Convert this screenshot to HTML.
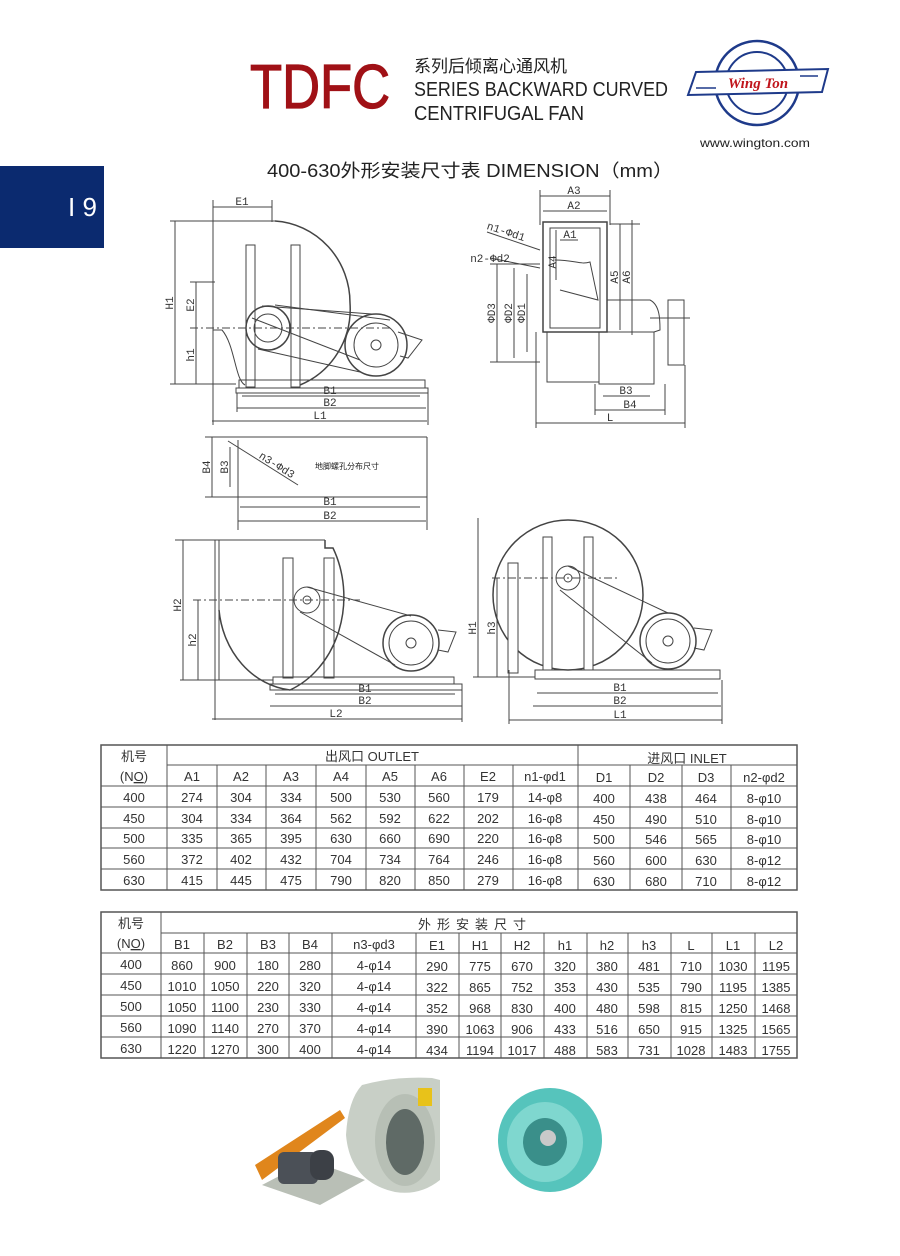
<!DOCTYPE html>
<html><head><meta charset="utf-8"><style>
html,body{margin:0;padding:0;background:#fff;}
svg{display:block;}
</style></head><body>
<svg width="900" height="1256" viewBox="0 0 900 1256" xmlns="http://www.w3.org/2000/svg" font-family="'Liberation Sans','Noto Sans CJK SC',sans-serif">
<rect width="900" height="1256" fill="#fff"/>
<!-- header -->
<text x="250" y="108" font-size="62" fill="#a01116" stroke="#a01116" stroke-width="1.2" textLength="140" lengthAdjust="spacingAndGlyphs">TDFC</text>
<text x="414" y="72" font-size="17" fill="#222">系列后倾离心通风机</text>
<text x="414" y="96" font-size="20" fill="#222" textLength="254" lengthAdjust="spacingAndGlyphs">SERIES BACKWARD CURVED</text>
<text x="414" y="120" font-size="20" fill="#222" textLength="170" lengthAdjust="spacingAndGlyphs">CENTRIFUGAL FAN</text>
<!-- logo -->
<circle cx="757" cy="83" r="42" fill="none" stroke="#1e3a8a" stroke-width="2.5"/>
<circle cx="757" cy="83" r="31" fill="none" stroke="#1e3a8a" stroke-width="2"/>
<path d="M696 72 L828 69 L822 92 L688 95 Z" fill="#fff" stroke="#1e3a8a" stroke-width="2"/>
<line x1="696" y1="88" x2="716" y2="88" stroke="#1e3a8a" stroke-width="1.5"/><line x1="800" y1="76" x2="818" y2="76" stroke="#1e3a8a" stroke-width="1.5"/>
<text x="758" y="88" font-size="15" font-weight="bold" font-family="'Liberation Serif',serif" fill="#c0141b" text-anchor="middle" font-style="italic">Wing Ton</text>
<text x="700" y="147" font-size="12" fill="#222" textLength="110" lengthAdjust="spacingAndGlyphs">www.wington.com</text>
<text x="267" y="177" font-size="18" fill="#222" textLength="406" lengthAdjust="spacingAndGlyphs">400-630外形安装尺寸表 DIMENSION（mm）</text>
<rect x="0" y="166" width="104" height="82" fill="#0b2a6f"/>
<text x="68" y="216" font-size="26" fill="#fff">I 9</text>

<!-- diagrams -->
<g fill="none" stroke="#444" stroke-width="1">
<!-- D1 side view -->
<line x1="213" y1="200" x2="213" y2="425"/><line x1="272" y1="200" x2="272" y2="222"/>
<line x1="213" y1="207" x2="272" y2="207"/>
<line x1="170" y1="221" x2="275" y2="221"/>
<path d="M275 221 A80 82 0 0 1 350 303 L350 303 A80 82 0 0 1 300 385" stroke-width="1.5"/>
<path d="M213 330 L222 330 C235 345 235 380 245 385"/>
<rect x="246" y="245" width="9" height="142"/><rect x="291" y="245" width="9" height="142"/>
<circle cx="268" cy="328" r="22" stroke-width="1.5"/><circle cx="268" cy="328" r="14"/>
<circle cx="376" cy="345" r="31" stroke-width="1.5"/><circle cx="376" cy="345" r="22"/><circle cx="376" cy="345" r="5"/>
<line x1="262" y1="306" x2="372" y2="314"/><line x1="258" y1="349" x2="360" y2="372"/>
<line x1="252" y1="318" x2="360" y2="360"/><line x1="275" y1="305" x2="390" y2="320"/>
<path d="M398 332 L422 340 L408 358 L400 356"/>
<rect x="239" y="380" width="186" height="8"/><rect x="236" y="388" width="192" height="5"/>
<line x1="175" y1="221" x2="175" y2="384"/><line x1="170" y1="384" x2="236" y2="384"/>
<line x1="196" y1="282" x2="196" y2="384"/><line x1="190" y1="282" x2="215" y2="282"/><line x1="190" y1="328" x2="390" y2="328" stroke-dasharray="8 3 2 3"/>
<line x1="237" y1="393" x2="237" y2="412"/><line x1="428" y1="393" x2="428" y2="425"/>
<line x1="242" y1="396" x2="420" y2="396"/><line x1="237" y1="408" x2="426" y2="408"/><line x1="212" y1="421" x2="427" y2="421"/>
<!-- D2 front view -->
<line x1="540" y1="190" x2="540" y2="225"/><line x1="610" y1="190" x2="610" y2="225"/>
<line x1="540" y1="196" x2="610" y2="196"/><line x1="543" y1="211" x2="607" y2="211"/>
<rect x="543" y="222" width="64" height="110" stroke-width="1.5"/><rect x="550" y="228" width="50" height="100"/>
<line x1="560" y1="240" x2="578" y2="240"/><line x1="556" y1="230" x2="556" y2="280"/>
<line x1="610" y1="224" x2="640" y2="224"/><line x1="620" y1="224" x2="620" y2="330"/><line x1="632" y1="220" x2="632" y2="335"/>
<path d="M555 260 C575 260 580 265 590 262 L598 300 L560 290"/>
<rect x="547" y="332" width="52" height="50"/><rect x="599" y="332" width="55" height="52"/>
<path d="M607 300 L650 300 C660 305 660 320 660 330 L654 332"/>
<rect x="668" y="300" width="16" height="65"/><line x1="650" y1="318" x2="690" y2="318"/>
<line x1="490" y1="264" x2="540" y2="264"/><line x1="497" y1="264" x2="497" y2="362"/><line x1="514" y1="268" x2="514" y2="358"/><line x1="527" y1="274" x2="527" y2="352"/>
<line x1="490" y1="362" x2="540" y2="362"/>
<line x1="536" y1="332" x2="536" y2="428"/><line x1="685" y1="365" x2="685" y2="428"/>
<line x1="536" y1="423" x2="685" y2="423"/>
<line x1="595" y1="384" x2="595" y2="415"/><line x1="665" y1="384" x2="665" y2="415"/>
<line x1="603" y1="396" x2="650" y2="396"/><line x1="595" y1="410" x2="665" y2="410"/>
<line x1="487" y1="232" x2="540" y2="250"/><line x1="490" y1="258" x2="540" y2="268"/>
<!-- D3 bolt layout -->
<line x1="205" y1="437" x2="427" y2="437"/><line x1="205" y1="497" x2="427" y2="497"/><line x1="427" y1="437" x2="427" y2="530"/>
<line x1="238" y1="440" x2="238" y2="530"/><line x1="212" y1="437" x2="212" y2="497"/><line x1="230" y1="447" x2="230" y2="487"/>
<line x1="228" y1="441" x2="298" y2="485"/>
<line x1="240" y1="507" x2="420" y2="507"/><line x1="238" y1="521" x2="426" y2="521"/>
<!-- D4 -->
<line x1="215" y1="540" x2="215" y2="720"/><line x1="219" y1="540" x2="219" y2="680"/>
<line x1="175" y1="540" x2="325" y2="540"/>
<path d="M325 540 L325 548 L333 548 A85 100 0 0 1 290 690 A80 90 0 0 1 219 610" stroke-width="1.5"/>
<rect x="283" y="558" width="10" height="120"/><rect x="324" y="558" width="10" height="120"/>
<circle cx="307" cy="600" r="13"/><circle cx="307" cy="600" r="4"/>
<circle cx="411" cy="643" r="28" stroke-width="1.5"/><circle cx="411" cy="643" r="22"/><circle cx="411" cy="643" r="5"/>
<line x1="307" y1="587" x2="411" y2="616"/><line x1="300" y1="612" x2="395" y2="665"/>
<path d="M438 630 L456 632 L448 652 L438 650"/>
<rect x="273" y="677" width="181" height="7"/><rect x="270" y="684" width="192" height="6"/>
<line x1="183" y1="540" x2="183" y2="680"/><line x1="198" y1="600" x2="198" y2="680"/><line x1="180" y1="680" x2="273" y2="680"/>
<line x1="193" y1="600" x2="360" y2="600" stroke-dasharray="8 3 2 3"/>
<line x1="275" y1="694" x2="455" y2="694"/><line x1="270" y1="706" x2="462" y2="706"/><line x1="212" y1="719" x2="462" y2="719"/>
<line x1="462" y1="690" x2="462" y2="722"/>
<!-- D5 -->
<circle cx="568" cy="595" r="75" stroke-width="1.5"/>
<rect x="508" y="563" width="10" height="110" fill="#fff"/>
<rect x="543" y="537" width="9" height="133" fill="#fff"/><rect x="584" y="537" width="9" height="133" fill="#fff"/>
<circle cx="568" cy="578" r="12"/><circle cx="568" cy="578" r="4"/>
<circle cx="668" cy="641" r="28" stroke-width="1.5"/><circle cx="668" cy="641" r="22"/><circle cx="668" cy="641" r="5"/>
<line x1="568" y1="566" x2="668" y2="613"/><line x1="560" y1="590" x2="652" y2="663"/>
<path d="M694 628 L712 630 L704 650 L694 648"/>
<rect x="535" y="670" width="185" height="9"/>
<line x1="478" y1="518" x2="478" y2="677"/><line x1="497" y1="578" x2="497" y2="677"/><line x1="473" y1="677" x2="535" y2="677"/>
<line x1="492" y1="578" x2="620" y2="578" stroke-dasharray="8 3 2 3"/>
<line x1="537" y1="693" x2="718" y2="693"/><line x1="533" y1="706" x2="721" y2="706"/><line x1="509" y1="720" x2="722" y2="720"/>
<line x1="509" y1="670" x2="509" y2="724"/><line x1="722" y1="680" x2="722" y2="724"/>
</g>
<g font-size="11" fill="#333" font-family="'Liberation Mono',monospace" text-anchor="middle">
<text x="242" y="205">E1</text><text x="574" y="194">A3</text><text x="574" y="209">A2</text><text x="570" y="238">A1</text>
<text x="330" y="394">B1</text><text x="330" y="406">B2</text><text x="320" y="419">L1</text>
<text x="626" y="394">B3</text><text x="630" y="408">B4</text><text x="610" y="421">L</text>
<text x="330" y="505">B1</text><text x="330" y="519">B2</text>
<text x="365" y="692">B1</text><text x="365" y="704">B2</text><text x="336" y="717">L2</text>
<text x="620" y="691">B1</text><text x="620" y="704">B2</text><text x="620" y="718">L1</text>
<text transform="translate(173,303) rotate(-90)">H1</text><text transform="translate(194,305) rotate(-90)">E2</text><text transform="translate(194,355) rotate(-90)">h1</text>
<text transform="translate(181,605) rotate(-90)">H2</text><text transform="translate(196,640) rotate(-90)">h2</text>
<text transform="translate(476,628) rotate(-90)">H1</text><text transform="translate(495,628) rotate(-90)">h3</text>
<text transform="translate(210,467) rotate(-90)">B4</text><text transform="translate(228,467) rotate(-90)">B3</text>
<text transform="translate(495,313) rotate(-90)">ΦD3</text><text transform="translate(512,313) rotate(-90)">ΦD2</text><text transform="translate(525,313) rotate(-90)">ΦD1</text>
<text transform="translate(556,262) rotate(-90)">A4</text><text transform="translate(618,277) rotate(-90)">A5</text><text transform="translate(630,277) rotate(-90)">A6</text>
<text transform="translate(505,235) rotate(18)">n1-Φd1</text><text x="490" y="262">n2-Φd2</text>
<text transform="translate(275,468) rotate(32)">n3-Φd3</text>
</g>
<text x="315" y="469" font-size="8" fill="#222">地脚螺孔分布尺寸</text>

<!-- photos -->
<g>
<path d="M255 1165 L340 1110 L345 1118 L262 1180 Z" fill="#e0861c"/>
<path d="M262 1185 L320 1205 L365 1180 L310 1160 Z" fill="#b9bfb6"/>
<rect x="278" y="1152" width="40" height="32" rx="6" fill="#4b5057"/>
<rect x="310" y="1150" width="24" height="30" rx="10" fill="#3c4046"/>
<path d="M362 1085 Q395 1076 432 1078 L440 1080 L440 1180 Q420 1196 395 1192 Q350 1182 346 1135 Q348 1100 362 1085 Z" fill="#c8cfc6"/>
<ellipse cx="405" cy="1140" rx="30" ry="46" fill="#b7bfb5"/>
<ellipse cx="405" cy="1142" rx="19" ry="33" fill="#5f6a66"/>
<rect x="418" y="1088" width="14" height="18" fill="#e8c21a"/>
<ellipse cx="550" cy="1140" rx="52" ry="52" fill="#56c4bc"/>
<ellipse cx="545" cy="1142" rx="38" ry="40" fill="#7fd7cf"/>
<ellipse cx="545" cy="1142" rx="22" ry="24" fill="#3a8f8a"/>
<circle cx="548" cy="1138" r="8" fill="#c9c9c9"/>
</g>

<!-- table 1 -->
<g stroke="#555" stroke-width="1" fill="none">
<rect x="101" y="745" width="696" height="145" stroke-width="1.5"/>
<line x1="167" y1="765" x2="797" y2="765"/><line x1="101" y1="786" x2="797" y2="786"/>
<line x1="101" y1="807" x2="797" y2="807"/><line x1="101" y1="828" x2="797" y2="828"/><line x1="101" y1="848" x2="797" y2="848"/><line x1="101" y1="869" x2="797" y2="869"/>
<line x1="167" y1="745" x2="167" y2="890"/><line x1="578" y1="745" x2="578" y2="890"/>
<line x1="217" y1="765" x2="217" y2="890"/><line x1="266" y1="765" x2="266" y2="890"/><line x1="316" y1="765" x2="316" y2="890"/><line x1="366" y1="765" x2="366" y2="890"/><line x1="415" y1="765" x2="415" y2="890"/><line x1="464" y1="765" x2="464" y2="890"/><line x1="513" y1="765" x2="513" y2="890"/>
<line x1="630" y1="765" x2="630" y2="890"/><line x1="682" y1="765" x2="682" y2="890"/><line x1="731" y1="765" x2="731" y2="890"/>
</g>
<g font-size="13" fill="#333" text-anchor="middle">
<text x="134" y="761">机号</text><text x="134" y="781">(N<tspan text-decoration="underline">O</tspan>)</text>
<text x="372" y="761">出风口 OUTLET</text><text x="687" y="763">进风口 INLET</text>
<text x="192" y="781">A1</text><text x="241" y="781">A2</text><text x="291" y="781">A3</text><text x="341" y="781">A4</text><text x="390" y="781">A5</text><text x="439" y="781">A6</text><text x="488" y="781">E2</text><text x="545" y="781">n1-φd1</text><text x="604" y="782">D1</text><text x="656" y="782">D2</text><text x="706" y="782">D3</text><text x="764" y="782">n2-φd2</text>
<text x="134" y="802">400</text><text x="192" y="802">274</text><text x="241" y="802">304</text><text x="291" y="802">334</text><text x="341" y="802">500</text><text x="390" y="802">530</text><text x="439" y="802">560</text><text x="488" y="802">179</text><text x="545" y="802">14-φ8</text><text x="604" y="803">400</text><text x="656" y="803">438</text><text x="706" y="803">464</text><text x="764" y="803">8-φ10</text>
<text x="134" y="823">450</text><text x="192" y="823">304</text><text x="241" y="823">334</text><text x="291" y="823">364</text><text x="341" y="823">562</text><text x="390" y="823">592</text><text x="439" y="823">622</text><text x="488" y="823">202</text><text x="545" y="823">16-φ8</text><text x="604" y="824">450</text><text x="656" y="824">490</text><text x="706" y="824">510</text><text x="764" y="824">8-φ10</text>
<text x="134" y="843">500</text><text x="192" y="843">335</text><text x="241" y="843">365</text><text x="291" y="843">395</text><text x="341" y="843">630</text><text x="390" y="843">660</text><text x="439" y="843">690</text><text x="488" y="843">220</text><text x="545" y="843">16-φ8</text><text x="604" y="844">500</text><text x="656" y="844">546</text><text x="706" y="844">565</text><text x="764" y="844">8-φ10</text>
<text x="134" y="864">560</text><text x="192" y="864">372</text><text x="241" y="864">402</text><text x="291" y="864">432</text><text x="341" y="864">704</text><text x="390" y="864">734</text><text x="439" y="864">764</text><text x="488" y="864">246</text><text x="545" y="864">16-φ8</text><text x="604" y="865">560</text><text x="656" y="865">600</text><text x="706" y="865">630</text><text x="764" y="865">8-φ12</text>
<text x="134" y="885">630</text><text x="192" y="885">415</text><text x="241" y="885">445</text><text x="291" y="885">475</text><text x="341" y="885">790</text><text x="390" y="885">820</text><text x="439" y="885">850</text><text x="488" y="885">279</text><text x="545" y="885">16-φ8</text><text x="604" y="886">630</text><text x="656" y="886">680</text><text x="706" y="886">710</text><text x="764" y="886">8-φ12</text>
</g>

<!-- table 2 -->
<g stroke="#555" stroke-width="1" fill="none">
<rect x="101" y="912" width="696" height="146" stroke-width="1.5"/>
<line x1="161" y1="933" x2="797" y2="933"/><line x1="101" y1="953" x2="797" y2="953"/>
<line x1="101" y1="974" x2="797" y2="974"/><line x1="101" y1="995" x2="797" y2="995"/><line x1="101" y1="1016" x2="797" y2="1016"/><line x1="101" y1="1037" x2="797" y2="1037"/>
<line x1="161" y1="912" x2="161" y2="1058"/>
<line x1="204" y1="933" x2="204" y2="1058"/><line x1="247" y1="933" x2="247" y2="1058"/><line x1="289" y1="933" x2="289" y2="1058"/><line x1="332" y1="933" x2="332" y2="1058"/><line x1="416" y1="933" x2="416" y2="1058"/><line x1="459" y1="933" x2="459" y2="1058"/><line x1="501" y1="933" x2="501" y2="1058"/><line x1="544" y1="933" x2="544" y2="1058"/><line x1="587" y1="933" x2="587" y2="1058"/><line x1="628" y1="933" x2="628" y2="1058"/><line x1="671" y1="933" x2="671" y2="1058"/><line x1="712" y1="933" x2="712" y2="1058"/><line x1="755" y1="933" x2="755" y2="1058"/>
</g>
<g font-size="13" fill="#333" text-anchor="middle">
<text x="131" y="928">机号</text><text x="131" y="948">(N<tspan text-decoration="underline">O</tspan>)</text>
<text x="475" y="929" letter-spacing="6">外形安装尺寸</text>
<text x="182" y="949">B1</text><text x="225" y="949">B2</text><text x="268" y="949">B3</text><text x="310" y="949">B4</text><text x="374" y="949">n3-φd3</text><text x="437" y="950">E1</text><text x="480" y="950">H1</text><text x="522" y="950">H2</text><text x="565" y="950">h1</text><text x="607" y="950">h2</text><text x="649" y="950">h3</text><text x="691" y="950">L</text><text x="733" y="950">L1</text><text x="776" y="950">L2</text>
<text x="131" y="969">400</text><text x="182" y="970">860</text><text x="225" y="970">900</text><text x="268" y="970">180</text><text x="310" y="970">280</text><text x="374" y="970">4-φ14</text><text x="437" y="971">290</text><text x="480" y="971">775</text><text x="522" y="971">670</text><text x="565" y="971">320</text><text x="607" y="971">380</text><text x="649" y="971">481</text><text x="691" y="971">710</text><text x="733" y="971">1030</text><text x="776" y="971">1195</text>
<text x="131" y="990">450</text><text x="182" y="991">1010</text><text x="225" y="991">1050</text><text x="268" y="991">220</text><text x="310" y="991">320</text><text x="374" y="991">4-φ14</text><text x="437" y="992">322</text><text x="480" y="992">865</text><text x="522" y="992">752</text><text x="565" y="992">353</text><text x="607" y="992">430</text><text x="649" y="992">535</text><text x="691" y="992">790</text><text x="733" y="992">1195</text><text x="776" y="992">1385</text>
<text x="131" y="1011">500</text><text x="182" y="1012">1050</text><text x="225" y="1012">1100</text><text x="268" y="1012">230</text><text x="310" y="1012">330</text><text x="374" y="1012">4-φ14</text><text x="437" y="1013">352</text><text x="480" y="1013">968</text><text x="522" y="1013">830</text><text x="565" y="1013">400</text><text x="607" y="1013">480</text><text x="649" y="1013">598</text><text x="691" y="1013">815</text><text x="733" y="1013">1250</text><text x="776" y="1013">1468</text>
<text x="131" y="1032">560</text><text x="182" y="1033">1090</text><text x="225" y="1033">1140</text><text x="268" y="1033">270</text><text x="310" y="1033">370</text><text x="374" y="1033">4-φ14</text><text x="437" y="1034">390</text><text x="480" y="1034">1063</text><text x="522" y="1034">906</text><text x="565" y="1034">433</text><text x="607" y="1034">516</text><text x="649" y="1034">650</text><text x="691" y="1034">915</text><text x="733" y="1034">1325</text><text x="776" y="1034">1565</text>
<text x="131" y="1053">630</text><text x="182" y="1054">1220</text><text x="225" y="1054">1270</text><text x="268" y="1054">300</text><text x="310" y="1054">400</text><text x="374" y="1054">4-φ14</text><text x="437" y="1055">434</text><text x="480" y="1055">1194</text><text x="522" y="1055">1017</text><text x="565" y="1055">488</text><text x="607" y="1055">583</text><text x="649" y="1055">731</text><text x="691" y="1055">1028</text><text x="733" y="1055">1483</text><text x="776" y="1055">1755</text>
</g>
</svg>
</body></html>
